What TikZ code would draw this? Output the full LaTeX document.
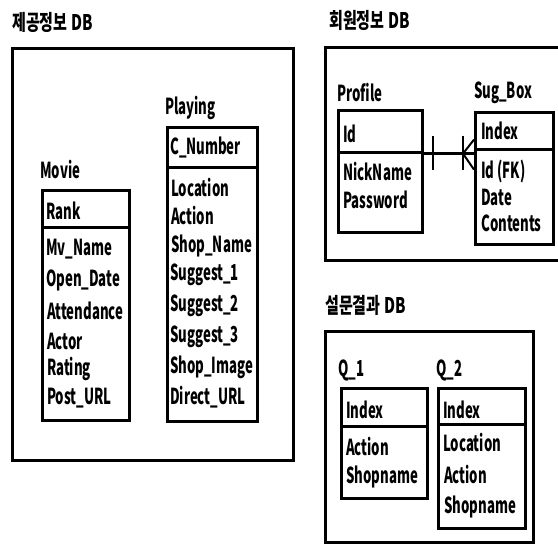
\documentclass[tikz,border=0pt]{standalone}
\usepackage{fontspec}
\setmainfont{Noto Sans CJK KR}[FakeStretch=0.6]
\newfontfamily\ttlfont{Noto Sans CJK KR}[FakeStretch=0.7]
\begin{document}
\begin{tikzpicture}[x=1pt,y=-1pt,
  frame/.style={line width=3pt},
  cell/.style={draw, line width=2.6pt, rectangle, inner sep=0pt, anchor=north west},
  txt/.style={anchor=west, inner sep=0pt, font=\fontsize{22}{26}\selectfont\bfseries},
  title/.style={anchor=west, inner sep=0pt, font=\ttlfont\fontsize{21.5}{24}\selectfont\bfseries},
  conn/.style={line width=2.6pt}]
\useasboundingbox (0,0) rectangle (558,545);
% titles
\node[title] (t1) at (12,22) {제공정보 DB};
\node[title] (t2) at (329,20) {회원정보 DB};
\node[title] (t3) at (325,305) {설문결과 DB};
% frames
\draw[frame] (12,49) rectangle (293,461);
\draw[frame] (562,48) -- (325,48) -- (325,261) -- (562,261);
\draw[frame] (325,332) rectangle (533,543);
% Movie
\node[txt] (movieL) at (40,170) {Movie};
\node[cell, minimum width=87pt, minimum height=37pt] (movieH) at (41,189) {};
\node[cell, minimum width=87pt, minimum height=193pt] (movieB) at (41,226) {};
\node[txt] at (46,211) {Rank};
\node[txt] at (46,249) {Mv\_Name};
\node[txt] at (46,280) {Open\_Date};
\node[txt] at (47,311) {Attendance};
\node[txt] at (47,341) {Actor};
\node[txt] at (47,369) {Rating};
\node[txt] at (47,398) {Post\_URL};
% Playing
\node[txt] (playL) at (165,108) {Playing};
\node[cell, minimum width=90pt, minimum height=40pt] (playH) at (166,126) {};
\node[cell, minimum width=90pt, minimum height=254pt] (playB) at (166,166) {};
\node[txt] at (170,148) {C\_Number};
\node[txt] at (171,188) {Location};
\node[txt] at (171,216) {Action};
\node[txt] at (171,246) {Shop\_Name};
\node[txt] at (170,275) {Suggest\_1};
\node[txt] at (170,306) {Suggest\_2};
\node[txt] at (170,337) {Suggest\_3};
\node[txt] at (170,367) {Shop\_Image};
\node[txt] at (170,397) {Direct\_URL};
% Profile
\node[txt] (profL) at (337,93) {Profile};
\node[cell, minimum width=84pt, minimum height=42pt] (profH) at (337,109) {};
\node[cell, minimum width=84pt, minimum height=80pt] (profB) at (337,151) {};
\node[txt] at (343,134) {Id};
\node[txt] at (343,172) {NickName};
\node[txt] at (343,200) {Password};
% Sug_Box
\node[txt] (sugL) at (474,93) {Sug\_Box};
\node[cell, minimum width=78pt, minimum height=37pt] (sugH) at (474,111) {};
\node[cell, minimum width=78pt, minimum height=95pt] (sugB) at (474,148) {};
\node[txt] at (481,131) {Index};
\node[txt] at (481,172) {Id (FK)};
\node[txt] at (481,197) {Date};
\node[txt] at (481,223) {Contents};
% connector: one (Profile) to many (Sug_Box)
\coordinate (cA) at (profH.south east);
\coordinate (cB) at (cA -| sugB.west);
\draw[conn] (cA) -- (cB);
\draw[conn, line width=2pt] ([xshift=9pt]cA) ++(0,-18) -- ++(0,34);
\draw[conn, line width=2pt] ([xshift=-11pt]cB) ++(0,-18) -- ++(0,34);
\draw[conn, line width=2pt] ([xshift=-11pt]cB) -- ([yshift=-16pt]cB);
\draw[conn, line width=2pt] ([xshift=-11pt]cB) -- ([yshift=14pt]cB);
% Q_1
\node[txt] (q1L) at (338,370) {Q\_1};
\node[cell, minimum width=86pt, minimum height=38pt] (q1H) at (340,387) {};
\node[cell, minimum width=86pt, minimum height=72pt] (q1B) at (340,425) {};
\node[txt] at (346,410) {Index};
\node[txt] at (346,447) {Action};
\node[txt] at (346,477) {Shopname};
% Q_2
\node[txt] (q2L) at (436,370) {Q\_2};
\node[cell, minimum width=87pt, minimum height=36pt] (q2H) at (437,387) {};
\node[cell, minimum width=87pt, minimum height=104pt] (q2B) at (437,423) {};
\node[txt] at (443,410) {Index};
\node[txt] at (443,443) {Location};
\node[txt] at (444,475) {Action};
\node[txt] at (444,507) {Shopname};
\end{tikzpicture}
\end{document}
